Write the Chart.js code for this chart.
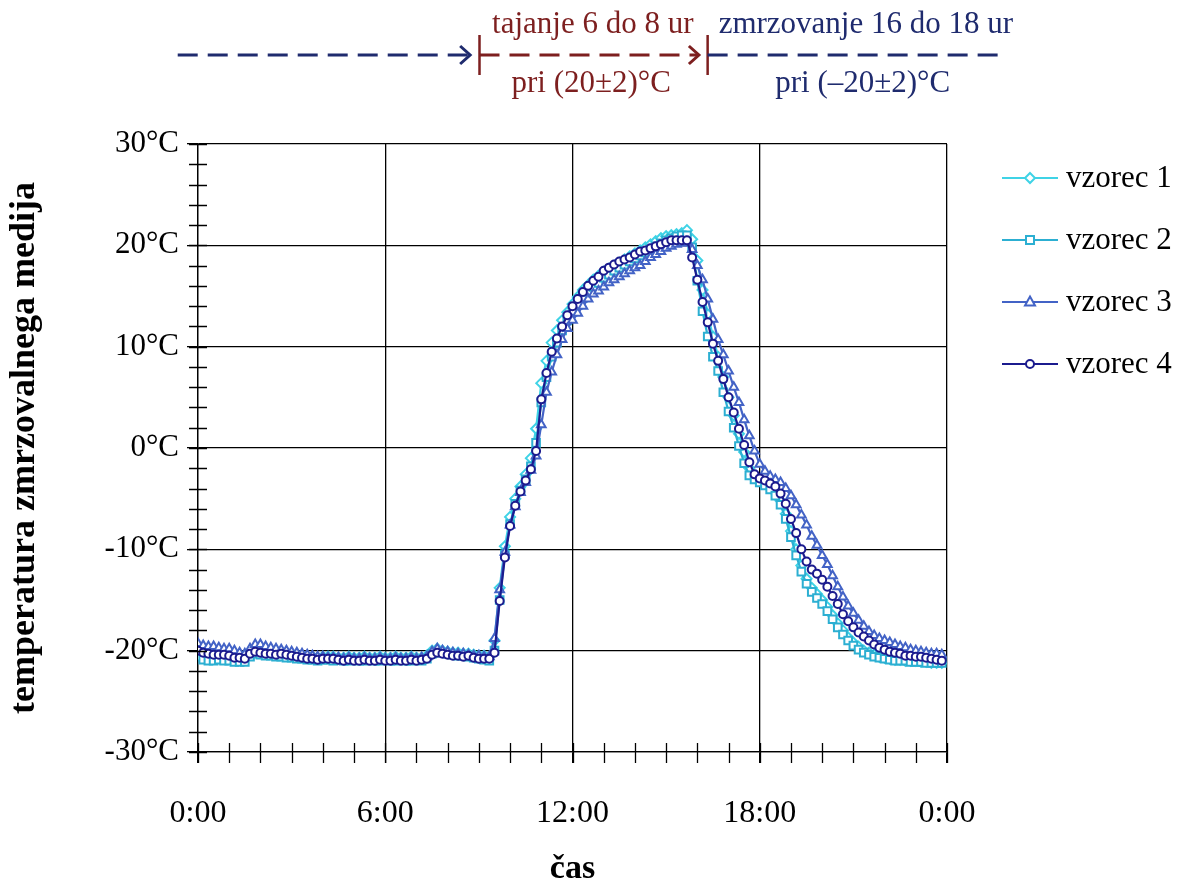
<!DOCTYPE html>
<html>
<head>
<meta charset="utf-8">
<title>temperatura zmrzovalnega medija</title>
<script src="https://cdn.jsdelivr.net/npm/chart.js@4.4.0/dist/chart.umd.min.js"></script>
<style>
    html, body { margin: 0; padding: 0; background: #fff; }
    #graf { display: block; }
</style>
</head>
<body>
<canvas id="graf" width="1188" height="886"></canvas>
<script>
// meritve na vsakih 10 minut, od 0:00 do 23:50
const korakMinut = 10;

const oznakeX = ['0:00', '6:00', '12:00', '18:00', '0:00'];
const oznakeY = ['-30°C', '-20°C', '-10°C', '0°C', '10°C', '20°C', '30°C'];
const imenaVzorcev = ['vzorec 1', 'vzorec 2', 'vzorec 3', 'vzorec 4'];

const vzorec1 = [
    -19.8, -20.0, -20.1, -20.2, -20.2, -20.3, -20.4, -20.5, -20.6, -20.7,
    -20.2, -19.9, -20.0, -20.1, -20.2, -20.2, -20.2, -20.3, -20.4, -20.4,
    -20.5, -20.6, -20.6, -20.7, -20.6, -20.6, -20.6, -20.7, -20.7, -20.6,
    -20.7, -20.7, -20.6, -20.7, -20.7, -20.6, -20.7, -20.7, -20.6, -20.7,
    -20.7, -20.6, -20.7, -20.7, -20.5, -20.0, -19.8, -20.0, -20.1, -20.2,
    -20.2, -20.3, -20.3, -20.4, -20.5, -20.5, -20.6, -19.0, -13.8, -9.7,
    -6.8, -5.0, -3.8, -2.6, -1.0, 1.9, 6.4, 8.6, 10.4, 11.6,
    12.6, 13.4, 14.2, 14.9, 15.6, 16.1, 16.6, 17.0, 17.4, 17.7,
    18.0, 18.3, 18.6, 18.9, 19.2, 19.5, 19.8, 20.1, 20.4, 20.7,
    20.9, 21.0, 21.1, 21.2, 21.5, 20.6, 18.5, 15.6, 13.2, 11.0,
    9.0, 7.0, 5.0, 3.2, 1.4, -0.4, -2.0, -2.9, -3.2, -3.5,
    -3.9, -4.4, -5.2, -6.5, -8.2, -10.0, -11.6, -12.9, -13.8, -14.4,
    -15.0, -15.7, -16.5, -17.3, -18.0, -18.7, -19.2, -19.6, -20.0, -20.2,
    -20.4, -20.6, -20.7, -20.8, -20.9, -20.9, -21.0, -21.0, -21.0, -21.1,
    -21.1, -21.2, -21.2, -21.2
];

const vzorec2 = [
    -20.6, -20.9, -21.0, -21.0, -20.9, -21.0, -21.0, -21.1, -21.1, -21.1,
    -20.6, -20.3, -20.4, -20.5, -20.5, -20.6, -20.6, -20.7, -20.7, -20.8,
    -20.8, -20.9, -20.9, -21.0, -20.9, -20.9, -21.0, -20.9, -21.0, -21.0,
    -20.9, -21.0, -21.0, -20.9, -21.0, -21.0, -20.9, -21.0, -21.0, -20.9,
    -21.0, -21.0, -20.9, -21.0, -20.8, -20.3, -20.1, -20.2, -20.3, -20.4,
    -20.5, -20.5, -20.6, -20.7, -20.8, -20.9, -21.0, -20.0, -15.0, -10.5,
    -7.5, -5.5, -4.2, -3.1, -1.8, 0.5, 4.5, 7.0, 9.0, 10.4,
    11.6, 12.6, 13.4, 14.1, 14.8, 15.4, 15.9, 16.3, 16.8, 17.1,
    17.5, 17.8, 18.1, 18.4, 18.7, 19.0, 19.3, 19.6, 19.9, 20.2,
    20.5, 20.7, 20.9, 21.0, 21.0, 19.8, 16.5, 13.5, 11.0, 9.0,
    7.6, 5.5, 3.6, 2.0, 0.2, -1.5, -2.7, -3.1, -3.4, -3.7,
    -4.1, -4.7, -5.6, -7.0, -8.8, -10.6, -12.2, -13.4, -14.2, -14.8,
    -15.4, -16.1, -16.9, -17.7, -18.4, -19.0, -19.5, -19.9, -20.2, -20.4,
    -20.6, -20.7, -20.8, -20.9, -21.0, -21.0, -21.0, -21.1, -21.1, -21.1,
    -21.2, -21.2, -21.2, -21.2
];

const vzorec3 = [
    -19.3, -19.5, -19.6, -19.6, -19.7, -19.8, -19.8, -20.0, -20.2, -20.3,
    -19.8, -19.4, -19.4, -19.6, -19.7, -19.8, -19.9, -20.0, -20.1, -20.2,
    -20.3, -20.4, -20.5, -20.6, -20.6, -20.7, -20.7, -20.7, -20.8, -20.7,
    -20.8, -20.8, -20.7, -20.8, -20.8, -20.7, -20.8, -20.8, -20.7, -20.8,
    -20.8, -20.7, -20.8, -20.7, -20.6, -20.1, -19.8, -20.0, -20.1, -20.2,
    -20.3, -20.3, -20.4, -20.5, -20.5, -20.6, -20.6, -18.8, -14.0, -10.3,
    -7.6, -5.8, -4.4, -3.4, -2.2, -0.8, 2.3, 5.5, 7.5, 9.2,
    10.7, 11.8, 12.6, 13.3, 14.0, 14.7, 15.2, 15.5, 15.9, 16.3,
    16.6, 16.9, 17.2, 17.5, 17.8, 18.0, 18.4, 18.8, 19.1, 19.4,
    19.7, 19.9, 20.1, 20.2, 20.3, 19.6, 18.0, 16.6, 14.7, 12.7,
    10.7, 9.2, 7.6, 6.0, 4.5, 2.8, 1.2, -0.3, -1.6, -2.3,
    -2.8, -3.1, -3.4, -4.0, -4.7, -5.6, -6.6, -7.6, -8.7, -9.6,
    -10.6, -11.5, -12.6, -13.7, -14.7, -15.6, -16.3, -17.0, -17.6, -18.1,
    -18.5, -18.8, -19.0, -19.2, -19.4, -19.6, -19.7, -19.9, -20.0, -20.1,
    -20.2, -20.3, -20.3, -20.4
];

const vzorec4 = [
    -20.0, -20.2, -20.3, -20.4, -20.4, -20.4, -20.5, -20.7, -20.7, -20.8,
    -20.3, -20.1, -20.2, -20.3, -20.3, -20.4, -20.3, -20.4, -20.5, -20.6,
    -20.7, -20.8, -20.8, -20.9, -20.8, -20.8, -20.8, -20.9, -21.0, -20.9,
    -21.0, -21.0, -20.9, -21.0, -21.0, -20.9, -21.0, -21.0, -20.9, -21.0,
    -21.0, -20.9, -21.0, -20.9, -20.8, -20.4, -20.2, -20.3, -20.4, -20.5,
    -20.5, -20.6, -20.5, -20.7, -20.8, -20.8, -20.8, -20.2, -15.1, -10.8,
    -7.7, -5.7, -4.3, -3.2, -2.1, -0.3, 4.8, 7.4, 9.5, 10.8,
    12.0, 13.1, 14.0, 14.7, 15.4, 16.0, 16.5, 16.9, 17.5, 17.8,
    18.1, 18.4, 18.6, 18.8, 19.1, 19.4, 19.5, 19.7, 19.9, 20.1,
    20.3, 20.5, 20.5, 20.5, 20.5, 18.8, 16.6, 14.4, 12.4, 10.3,
    8.6, 6.8, 5.0, 3.5, 1.9, 0.3, -1.4, -2.6, -3.0, -3.2,
    -3.5, -3.8, -4.5, -5.5, -7.0, -8.4, -10.0, -11.2, -12.0, -12.4,
    -13.0, -13.7, -14.6, -15.4, -16.4, -17.1, -17.7, -18.2, -18.6, -19.0,
    -19.4, -19.7, -19.9, -20.1, -20.2, -20.3, -20.5, -20.5, -20.6, -20.6,
    -20.7, -20.8, -20.9, -21.0
];

const barve = ['#3fd3e6', '#2cafd2', '#4363c6', '#1b1b8e'];
const oblike = ['rectRot', 'rect', 'triangle', 'circle'];
const polmeri = [5, 5.4, 5, 4];

const pisava = 'Liberation Serif, Times New Roman, serif';
const modra = '#1f2b6e';
const rdeca = '#7d1f1f';

/**
 * Pretvori zaporedje meritev v točke (x v urah)
 */
function vTocke(vrednosti) {
    return vrednosti.map((v, i) => ({x: i * korakMinut / 60, y: v}));
}

/**
 * Nariše prekinjeno črto z odprto puščico ali brez nje
 */
function crtkanaCrta(ctx, x1, x2, y, barva, puscica) {
    ctx.save();
    ctx.strokeStyle = barva;
    ctx.lineWidth = 3;
    ctx.setLineDash([20, 10]);
    ctx.beginPath();
    ctx.moveTo(x1, y);
    ctx.lineTo(x2, y);
    ctx.stroke();
    if (puscica) {
        ctx.setLineDash([]);
        ctx.lineWidth = 3;
        ctx.beginPath();
        ctx.moveTo(x2 - 10, y - 9);
        ctx.lineTo(x2, y);
        ctx.lineTo(x2 - 10, y + 9);
        ctx.stroke();
    }
    ctx.restore();
}

function oznaka(ctx, x, y, barva) {
    ctx.save();
    ctx.strokeStyle = barva;
    ctx.lineWidth = 2.5;
    ctx.beginPath();
    ctx.moveTo(x, y - 20);
    ctx.lineTo(x, y + 20);
    ctx.stroke();
    ctx.restore();
}

function znak(ctx, oblika, x, y, barva) {
    ctx.save();
    ctx.strokeStyle = barva;
    ctx.fillStyle = '#fff';
    ctx.lineWidth = 2;
    ctx.beginPath();
    if (oblika === 'circle') {
        ctx.arc(x, y, 4, 0, Math.PI * 2);
    } else if (oblika === 'rect') {
        ctx.rect(x - 4, y - 4, 8, 8);
    } else if (oblika === 'triangle') {
        ctx.moveTo(x, y - 5.5);
        ctx.lineTo(x + 5, y + 3.5);
        ctx.lineTo(x - 5, y + 3.5);
        ctx.closePath();
    } else {
        ctx.moveTo(x, y - 5);
        ctx.lineTo(x + 5, y);
        ctx.lineTo(x, y + 5);
        ctx.lineTo(x - 5, y);
        ctx.closePath();
    }
    ctx.fill();
    ctx.stroke();
    ctx.restore();
}

const dodatki = {
    id: 'dodatki',
    afterDraw(chart) {
        const ctx = chart.ctx;
        const sx = chart.scales.x;
        const sy = chart.scales.y;
        const a = chart.chartArea;

        // pomožne oznake na oseh (vsako uro, vsaka 2 °C)
        ctx.save();
        ctx.strokeStyle = '#000';
        ctx.lineWidth = 1.3;
        ctx.beginPath();
        for (let h = 0; h <= 24; h++) {
            const px = Math.round(sx.getPixelForValue(h)) + 0.5;
            ctx.moveTo(px, a.bottom - 9);
            ctx.lineTo(px, a.bottom + 11);
        }
        for (let t = -30; t <= 30; t += 2) {
            const py = Math.round(sy.getPixelForValue(t)) + 0.5;
            ctx.moveTo(a.left - 9, py);
            ctx.lineTo(a.left + 9, py);
        }
        ctx.stroke();
        ctx.restore();

        // legenda
        ctx.save();
        ctx.font = '31px ' + pisava;
        ctx.textBaseline = 'middle';
        ctx.fillStyle = '#000';
        for (let i = 0; i < imenaVzorcev.length; i++) {
            const yy = 178 + i * 62;
            ctx.strokeStyle = barve[i];
            ctx.lineWidth = 2.2;
            ctx.beginPath();
            ctx.moveTo(1002, yy);
            ctx.lineTo(1058, yy);
            ctx.stroke();
            znak(ctx, oblike[i], 1030, yy, barve[i]);
            ctx.fillText(imenaVzorcev[i], 1066, yy + 1);
        }
        ctx.restore();

        // časovni potek preizkusa nad grafom
        const yc = 55;
        const p = (h) => sx.getPixelForValue(h);
        crtkanaCrta(ctx, p(-0.65), p(8.72), yc, modra, true);
        oznaka(ctx, p(9.02), yc, rdeca);
        crtkanaCrta(ctx, p(9.02), p(16.05), yc, rdeca, true);
        oznaka(ctx, p(16.33), yc, rdeca);
        crtkanaCrta(ctx, p(16.33), p(25.85), yc, modra, false);

        ctx.save();
        ctx.textAlign = 'center';
        ctx.textBaseline = 'middle';
        ctx.font = '31px ' + pisava;
        ctx.fillStyle = rdeca;
        ctx.fillText('tajanje 6 do 8 ur', p(12.65), 25);
        ctx.fillText('pri (20±2)°C', p(12.6), 84);
        ctx.fillStyle = modra;
        ctx.fillText('zmrzovanje 16 do 18 ur', p(21.4), 25);
        ctx.fillText('pri (–20±2)°C', p(21.3), 84);
        ctx.restore();
    }
};

const datasets = [vzorec1, vzorec2, vzorec3, vzorec4].map((vrednosti, i) => ({
    label: imenaVzorcev[i],
    data: vTocke(vrednosti),
    borderColor: barve[i],
    borderWidth: 2.2,
    pointStyle: oblike[i],
    pointRadius: polmeri[i],
    pointBorderWidth: 2,
    pointBorderColor: barve[i],
    pointBackgroundColor: '#fff',
    tension: 0,
    fill: false,
    order: 3 - i
}));

new Chart(document.getElementById('graf').getContext('2d'), {
    type: 'line',
    data: {datasets: datasets},
    plugins: [dodatki],
    options: {
        responsive: false,
        animation: false,
        devicePixelRatio: 1,
        layout: {padding: {left: 0, right: 241, top: 144, bottom: 0}},
        plugins: {
            legend: {display: false},
            tooltip: {enabled: false}
        },
        scales: {
            x: {
                type: 'linear',
                min: 0,
                max: 24,
                afterFit(s) { s.height = 134; },
                ticks: {
                    stepSize: 6,
                    autoSkip: false,
                    maxRotation: 0,
                    color: '#000',
                    padding: 31,
                    font: {family: pisava, size: 32},
                    callback: (v, i) => oznakeX[i]
                },
                grid: {color: '#000', lineWidth: 1.3, tickLength: 11, tickColor: '#000'},
                border: {color: '#000', width: 1.3},
                title: {
                    display: true,
                    text: 'čas',
                    color: '#000',
                    font: {family: pisava, size: 34, weight: 'bold', lineHeight: 1.0},
                    padding: {top: 0, bottom: 0}
                }
            },
            y: {
                min: -30,
                max: 30,
                afterFit(s) { s.width = 198; },
                ticks: {
                    stepSize: 10,
                    color: '#000',
                    padding: 8,
                    font: {family: pisava, size: 31},
                    callback: (v, i) => oznakeY[i]
                },
                grid: {color: '#000', lineWidth: 1.3, tickLength: 11, tickColor: '#000'},
                border: {color: '#000', width: 1.3},
                title: {
                    display: true,
                    text: 'temperatura zmrzovalnega medija',
                    color: '#000',
                    font: {family: pisava, size: 36, weight: 'bold'},
                    padding: {top: 3, bottom: 0}
                }
            }
        }
    }
});
</script>
</body>
</html>
